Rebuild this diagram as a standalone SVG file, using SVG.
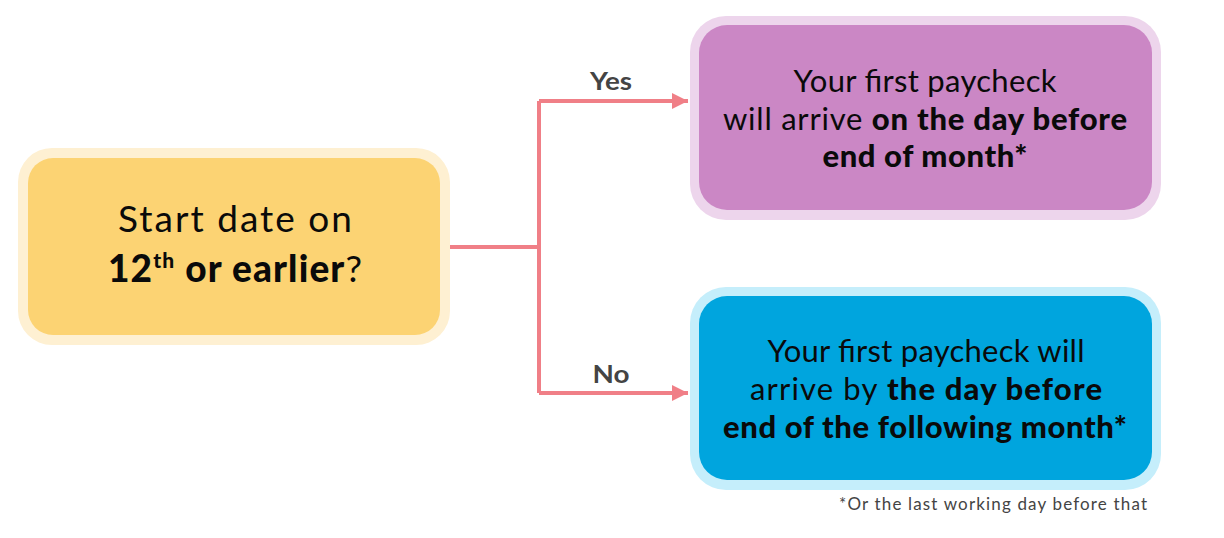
<svg xmlns="http://www.w3.org/2000/svg" width="1224" height="538" viewBox="0 0 1224 538">
<style>
.t{font-family:Lato,"Noto Sans","DejaVu Sans",sans-serif;fill:#0a0a0a;text-anchor:middle}
.b{font-weight:900}
.lbl{font-family:Lato,"Noto Sans","DejaVu Sans",sans-serif;fill:#444;font-size:25px;font-weight:700;text-anchor:middle}
.conn{fill:none;stroke:#F07F87;stroke-width:4}
.note{font-family:Lato,"Noto Sans","DejaVu Sans",sans-serif;fill:#444;font-size:17px;text-anchor:end}
</style>
<defs>
<marker id="arr" viewBox="0 0 10 10" refX="10" refY="5" markerWidth="4" markerHeight="4" orient="auto" markerUnits="strokeWidth">
<path d="M0,0 L10,5 L0,10 z" fill="#F07F87"/>
</marker>
</defs>
<rect width="1224" height="538" fill="#fff"/>
<g id="connectors">
<path class="conn" d="M450,247 H539"/>
<path class="conn" d="M539,101 V393"/>
<path class="conn" d="M539,101 H688" marker-end="url(#arr)"/>
<path class="conn" d="M539,393 H688" marker-end="url(#arr)"/>
<text class="lbl" x="611" y="90" textLength="42" lengthAdjust="spacingAndGlyphs">Yes</text>
<text class="lbl" x="611" y="383" textLength="37" lengthAdjust="spacingAndGlyphs">No</text>
</g>
<g id="start">
<rect x="18" y="148" width="432" height="197" rx="34" fill="#FEF0D2"/>
<rect x="28" y="158" width="412" height="177" rx="25" fill="#FCD373"/>
<text class="t" font-size="37" x="235" y="232" textLength="234" lengthAdjust="spacing">Start date on</text>
<text class="t" font-size="37" x="235" y="282" textLength="254" lengthAdjust="spacing"><tspan class="b">12<tspan font-size="21" dy="-14">th</tspan><tspan dy="14"> or earlier</tspan></tspan>?</text>
</g>
<g id="yes">
<rect x="690" y="16" width="471" height="204" rx="36" fill="#EDD5EC"/>
<rect x="699" y="25" width="453" height="185" rx="28" fill="#CB87C5"/>
<text class="t" font-size="31" x="925" y="92" textLength="263" lengthAdjust="spacing">Your first paycheck</text>
<text class="t" font-size="31" x="925" y="130" textLength="404" lengthAdjust="spacing">will arrive <tspan class="b">on the day before</tspan></text>
<text class="t b" font-size="31" x="925" y="167" textLength="205" lengthAdjust="spacing">end of month*</text>
</g>
<g id="no">
<rect x="690" y="287" width="471" height="203" rx="36" fill="#C5EEFB"/>
<rect x="699" y="296" width="453" height="184" rx="28" fill="#00A5DE"/>
<text class="t" font-size="31" x="926" y="362" textLength="317" lengthAdjust="spacing">Your first paycheck will</text>
<text class="t" font-size="31" x="926" y="400" textLength="352" lengthAdjust="spacing">arrive by <tspan class="b">the day before</tspan></text>
<text class="t b" font-size="31" x="925" y="438" textLength="404" lengthAdjust="spacing">end of the following month*</text>
</g>
<text class="note" x="1147" y="510" textLength="308" lengthAdjust="spacing">*Or the last working day before that</text>
</svg>
